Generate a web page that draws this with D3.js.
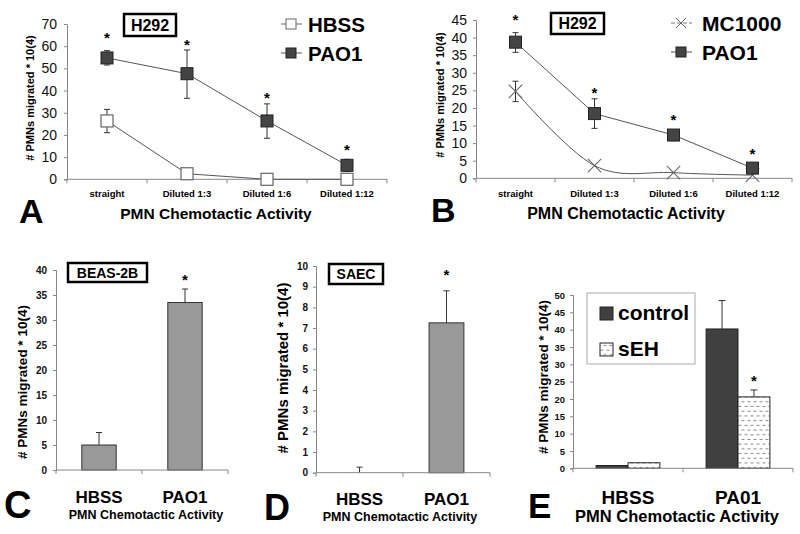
<!DOCTYPE html>
<html><head><meta charset="utf-8">
<script src="https://cdn.jsdelivr.net/npm/d3@7"></script>
<style>body{margin:0;background:#fff}svg{display:block}text{font-family:"Liberation Sans",Arial,sans-serif}</style>
</head><body><svg id="c" width="800" height="534"></svg>
<script>
// ---------- DATA ----------
const dilutions = ["straight", "Diluted 1:3", "Diluted 1:6", "Diluted 1:12"];
// Panel A (H292)
const aHBSS = [26.3, 2.5, 0, 0];
const aHBSSLo = [21, 2.5, 0, 0];
const aHBSSHi = [31.5, 2.5, 0, 0];
const aPAO1 = [54.7, 47.6, 26.3, 6.3];
const aPAO1Lo = [51.5, 36.5, 18.5, 3.6];
const aPAO1Hi = [58, 58.3, 34, 9];
const aStars = [65, 61.8, 38, 14.6];
const aTicks = [0, 10, 20, 30, 40, 50, 60, 70];
// Panel B (H292)
const bMC1000 = [24.7, 3.6, 1.6, 0.9];
const bMC1000Lo = [21.8, 3.6, 1.6, 0.9];
const bMC1000Hi = [27.6, 3.6, 1.6, 0.9];
const bPAO1 = [38.7, 18.4, 12.3, 2.9];
const bPAO1Lo = [35.8, 14.2, 10.7, 2.9];
const bPAO1Hi = [41.4, 22.6, 13.6, 2.9];
const bStars = [45.9, 25.1, 17.5, 7.8];
const bTicks = [0, 5, 10, 15, 20, 25, 30, 35, 40, 45];
// Panel C (BEAS-2B)
const cCats = ["HBSS", "PAO1"];
const cVals = [5.0, 33.5];
const cErr = [7.5, 36.2];
const cStar = [null, 38.7];
const cTicks = [0, 5, 10, 15, 20, 25, 30, 35, 40];
// Panel D (SAEC)
const dCats = ["HBSS", "PAO1"];
const dVals = [0, 7.25];
const dErr = [0.27, 8.8];
const dStar = [null, 9.7];
const dTicks = [0, 1, 2, 3, 4, 5, 6, 7, 8, 9, 10];
// Panel E
const eCats = ["HBSS", "PA01"];
const eSeries = ["control", "sEH"];
const eControl = [0.8, 40.2];
const eControlErr = [null, 48.4];
const eSEH = [1.6, 20.6];
const eSEHErr = [null, 22.6];
const eStars = [[null, null], [null, 26]];
const eTicks = [0, 5, 10, 15, 20, 25, 30, 35, 40, 45, 50];

// ---------- HELPERS ----------
const svg = d3.select("#c");
const defs = svg.append("defs");
const pat = defs.append("pattern").attr("id", "dash").attr("patternUnits", "userSpaceOnUse")
  .attr("width", 6).attr("height", 9.4);
pat.append("rect").attr("width", 6).attr("height", 9.4).attr("fill", "#fff");
pat.append("line").attr("x1", 0.5).attr("x2", 3.5).attr("y1", 2.3).attr("y2", 2.3).attr("stroke", "#8a8a8a").attr("stroke-width", 1);
pat.append("line").attr("x1", 3.5).attr("x2", 6).attr("y1", 7).attr("y2", 7).attr("stroke", "#8a8a8a").attr("stroke-width", 1);
pat.append("line").attr("x1", 0).attr("x2", 0.5).attr("y1", 7).attr("y2", 7).attr("stroke", "#8a8a8a").attr("stroke-width", 1);

function txt(g, x, y, s, size, opts = {}) {
  return g.append("text").attr("x", x).attr("y", y).text(s)
    .attr("font-size", size).attr("font-weight", opts.w || "bold")
    .attr("text-anchor", opts.a || "middle").attr("fill", opts.f || "#000");
}
function yAxis(g, y, x0, ticks, fs, pad, fw) {
  const ax = g.append("g").attr("transform", `translate(${x0},0)`)
    .call(d3.axisLeft(y).tickValues(ticks).tickSize(3).tickPadding(pad));
  ax.select(".domain").attr("stroke", "#888");
  ax.selectAll(".tick line").attr("stroke", "#888");
  ax.selectAll("text").attr("font-size", fs).attr("font-weight", fw).attr("fill", "#111")
    .attr("font-family", '"Liberation Sans",Arial,sans-serif');
}
function xAxis(g, x, y0) {
  const r = x.range();
  g.append("line").attr("x1", r[0]).attr("x2", r[1]).attr("y1", y0).attr("y2", y0).attr("stroke", "#888");
  const n = x.domain().length;
  for (let i = 0; i <= n; i++) {
    const xx = r[0] + i * x.step();
    g.append("line").attr("x1", xx).attr("x2", xx).attr("y1", y0).attr("y2", y0 + 4).attr("stroke", "#888");
  }
}
function boxLabel(g, x, y, w, h, s, fs) {
  g.append("rect").attr("x", x).attr("y", y).attr("width", w).attr("height", h)
    .attr("fill", "#fff").attr("stroke", "#000").attr("stroke-width", 2.5);
  txt(g, x + w / 2, y + h / 2 + fs * 0.36, s, fs);
}
function star(g, x, yv) { txt(g, x, yv + 8, "*", 15); }
function errBar(g, x, y1, y2, cap, lo, hi) {
  g.append("line").attr("x1", x).attr("x2", x).attr("y1", y1).attr("y2", y2).attr("stroke", "#333");
  if (hi) g.append("line").attr("x1", x - cap).attr("x2", x + cap).attr("y1", y2).attr("y2", y2).attr("stroke", "#333");
  if (lo) g.append("line").attr("x1", x - cap).attr("x2", x + cap).attr("y1", y1).attr("y2", y1).attr("stroke", "#333");
}

// ---------- PANEL A ----------
{
  const g = svg.append("g");
  const x = d3.scaleBand().domain(dilutions).range([67, 387]);
  const y = d3.scaleLinear().domain([0, 70]).range([179.3, 24]);
  xAxis(g, x, y(0));
  yAxis(g, y, 67, aTicks, 14, 7, "normal");
  const cx = d => x(d) + x.bandwidth() / 2;
  const line = d3.line().x((d, i) => cx(dilutions[i])).y(d => y(d));
  g.append("path").attr("d", line(aHBSS)).attr("fill", "none").attr("stroke", "#555");
  g.append("path").attr("d", line(aPAO1)).attr("fill", "none").attr("stroke", "#555");
  dilutions.forEach((c, i) => {
    if (aHBSSHi[i] > aHBSS[i]) errBar(g, cx(c), y(aHBSSLo[i]), y(aHBSSHi[i]), 3, true, true);
    errBar(g, cx(c), y(aPAO1Lo[i]), y(aPAO1Hi[i]), 3, true, true);
  });
  dilutions.forEach((c, i) => {
    g.append("rect").attr("x", cx(c) - 6).attr("y", y(aHBSS[i]) - 6).attr("width", 12).attr("height", 12)
      .attr("fill", "#fff").attr("stroke", "#666").attr("stroke-width", 1.2);
    g.append("rect").attr("x", cx(c) - 6).attr("y", y(aPAO1[i]) - 6).attr("width", 12).attr("height", 12)
      .attr("fill", "#444").attr("stroke", "#222").attr("stroke-width", 1);
    star(g, cx(c), y(aStars[i]));
    txt(g, cx(c), 197, c, 9.5);
  });
  boxLabel(g, 124, 14, 52, 22, "H292", 16);
  // legend
  g.append("line").attr("x1", 281).attr("x2", 302).attr("y1", 24).attr("y2", 24).attr("stroke", "#666");
  g.append("rect").attr("x", 286).attr("y", 19).attr("width", 10).attr("height", 10).attr("fill", "#fff").attr("stroke", "#666");
  txt(g, 308, 32, "HBSS", 20.5, { a: "start" });
  g.append("line").attr("x1", 281).attr("x2", 302).attr("y1", 53).attr("y2", 53).attr("stroke", "#555");
  g.append("rect").attr("x", 286).attr("y", 48).attr("width", 10).attr("height", 10).attr("fill", "#444").attr("stroke", "#222");
  txt(g, 308, 61, "PAO1", 20.5, { a: "start" });
  txt(g, 216, 219, "PMN Chemotactic Activity", 15.5);
  txt(g, 19, 223, "A", 34, { a: "start" });
  txt(g, 0, 0, "# PMNs migrated * 10(4)", 11).attr("transform", "translate(34,98) rotate(-90)");
}

// ---------- PANEL B ----------
{
  const g = svg.append("g");
  const x = d3.scaleBand().domain(dilutions).range([476, 792]);
  const y = d3.scaleLinear().domain([0, 45]).range([178.3, 20]);
  xAxis(g, x, y(0));
  yAxis(g, y, 476, bTicks, 14, 6, "normal");
  const cx = d => x(d) + x.bandwidth() / 2;
  const sm = d3.line().x((d, i) => cx(dilutions[i])).y(d => y(d)).curve(d3.curveCatmullRom.alpha(0));
  const ln = d3.line().x((d, i) => cx(dilutions[i])).y(d => y(d));
  g.append("path").attr("d", sm(bMC1000)).attr("fill", "none").attr("stroke", "#555");
  g.append("path").attr("d", ln(bPAO1)).attr("fill", "none").attr("stroke", "#555");
  dilutions.forEach((c, i) => {
    if (bMC1000Hi[i] > bMC1000[i]) errBar(g, cx(c), y(bMC1000Lo[i]), y(bMC1000Hi[i]), 3, true, true);
    if (bPAO1Hi[i] > bPAO1[i]) errBar(g, cx(c), y(bPAO1Lo[i]), y(bPAO1Hi[i]), 3, true, true);
  });
  const xs = d3.symbol().type(d3.symbolX).size(120);
  dilutions.forEach((c, i) => {
    g.append("path").attr("d", xs()).attr("transform", `translate(${cx(c)},${y(bMC1000[i])})`)
      .attr("fill", "none").attr("stroke", "#666").attr("stroke-width", 1.1);
    g.append("rect").attr("x", cx(c) - 6).attr("y", y(bPAO1[i]) - 6).attr("width", 12).attr("height", 12)
      .attr("fill", "#444").attr("stroke", "#222");
    star(g, cx(c), y(bStars[i]));
    txt(g, cx(c), 197, c, 9.5);
  });
  boxLabel(g, 551, 13, 53, 21, "H292", 16);
  g.append("line").attr("x1", 671).attr("x2", 692).attr("y1", 23).attr("y2", 23).attr("stroke", "#777").attr("stroke-dasharray", "4,2");
  g.append("path").attr("d", d3.symbol().type(d3.symbolX).size(70)()).attr("transform", "translate(681,23)")
    .attr("fill", "none").attr("stroke", "#666");
  txt(g, 702, 31, "MC1000", 21, { a: "start" });
  g.append("line").attr("x1", 671).attr("x2", 692).attr("y1", 52).attr("y2", 52).attr("stroke", "#555");
  g.append("rect").attr("x", 676).attr("y", 47).attr("width", 10).attr("height", 10).attr("fill", "#444").attr("stroke", "#222");
  txt(g, 702, 60, "PAO1", 21, { a: "start" });
  txt(g, 626, 219, "PMN Chemotactic Activity", 16);
  txt(g, 431, 222, "B", 34, { a: "start" });
  txt(g, 0, 0, "# PMNs migrated * 10(4)", 11).attr("transform", "translate(444,95) rotate(-90)");
}

// ---------- BAR PANELS C & D ----------
function barPanel(cfg) {
  const g = svg.append("g");
  const x = d3.scaleBand().domain(cfg.cats).range(cfg.xr);
  const y = d3.scaleLinear().domain(cfg.yd).range(cfg.yr);
  const bw = x.bandwidth() * 0.4;
  cfg.cats.forEach((c, i) => {
    const cx = x(c) + x.bandwidth() / 2;
    if (cfg.vals[i] > 0)
      g.append("rect").attr("x", cx - bw / 2).attr("y", y(cfg.vals[i])).attr("width", bw)
        .attr("height", y(0) - y(cfg.vals[i])).attr("fill", "#999").attr("stroke", "#333").attr("stroke-width", 1);
    errBar(g, cx, y(cfg.vals[i]), y(cfg.err[i]), 3, false, true);
    if (cfg.star[i] != null) star(g, cx, y(cfg.star[i]));
    txt(g, cx, cfg.catY, c, 17);
  });
  xAxis(g, x, y(0));
  yAxis(g, y, cfg.xr[0], cfg.ticks, 10, cfg.pad, "bold");
  return { g, x, y };
}
{
  const { g } = barPanel({ cats: cCats, vals: cVals, err: cErr, star: cStar, xr: [56, 228], yd: [0, 40], yr: [470, 270], ticks: cTicks, catY: 503, pad: 6 });
  boxLabel(g, 68, 263, 79, 19, "BEAS-2B", 14);
  txt(g, 146, 519, "PMN Chemotactic Activity", 12.5);
  txt(g, 4, 518, "C", 38, { a: "start" });
  txt(g, 0, 0, "# PMNs migrated * 10(4)", 13.5).attr("transform", "translate(27,382) rotate(-90)");
}
{
  const { g } = barPanel({ cats: dCats, vals: dVals, err: dErr, star: dStar, xr: [316, 490], yd: [0, 10], yr: [472.7, 266], ticks: dTicks, catY: 505, pad: 5 });
  boxLabel(g, 329, 264, 54, 20, "SAEC", 14);
  txt(g, 400, 521, "PMN Chemotactic Activity", 12.5);
  txt(g, 264, 520, "D", 36, { a: "start" });
  txt(g, 0, 0, "# PMNs migrated * 10(4)", 15).attr("transform", "translate(288,368) rotate(-90)");
}

// ---------- PANEL E ----------
{
  const g = svg.append("g");
  const x = d3.scaleBand().domain(eCats).range([573, 793]);
  const xs = d3.scaleBand().domain(eSeries).range([0, x.bandwidth() * 0.58]);
  const y = d3.scaleLinear().domain([0, 50]).range([468.3, 295]);
  const vals = [eControl, eSEH], errs = [eControlErr, eSEHErr];
  const fills = ["#404040", "url(#dash)"];
  eCats.forEach((c, i) => {
    const x0 = x(c) + x.bandwidth() * 0.21;
    eSeries.forEach((s, j) => {
      const bx = x0 + xs(s);
      g.append("rect").attr("x", bx).attr("y", y(vals[j][i])).attr("width", xs.bandwidth())
        .attr("height", y(0) - y(vals[j][i])).attr("fill", fills[j]).attr("stroke", "#222").attr("stroke-width", 1);
      const cx = bx + xs.bandwidth() / 2;
      if (errs[j][i] != null) errBar(g, cx, y(vals[j][i]), y(errs[j][i]), 3.5, false, true);
      if (eStars[i][j] != null) star(g, cx, y(eStars[i][j]));
    });
    txt(g, x(c) + x.bandwidth() / 2, 504, c, 19);
  });
  xAxis(g, x, y(0));
  yAxis(g, y, 573, eTicks, 9.5, 5, "bold");
  g.append("rect").attr("x", 587).attr("y", 293).attr("width", 108).attr("height", 71).attr("fill", "#fff").attr("stroke", "#aaa");
  g.append("rect").attr("x", 600).attr("y", 307).attr("width", 13).attr("height", 13).attr("fill", "#404040").attr("stroke", "#222");
  txt(g, 618, 320, "control", 21, { a: "start" });
  g.append("rect").attr("x", 600).attr("y", 343).attr("width", 13).attr("height", 13).attr("fill", "url(#dash)").attr("stroke", "#222");
  txt(g, 618, 356, "sEH", 21, { a: "start" });
  txt(g, 677, 522, "PMN Chemotactic Activity", 16.5);
  txt(g, 528, 518, "E", 35, { a: "start" });
  txt(g, 0, 0, "# PMNs migrated * 10(4)", 13.5).attr("transform", "translate(548,377) rotate(-90)");
}
</script></body></html>
